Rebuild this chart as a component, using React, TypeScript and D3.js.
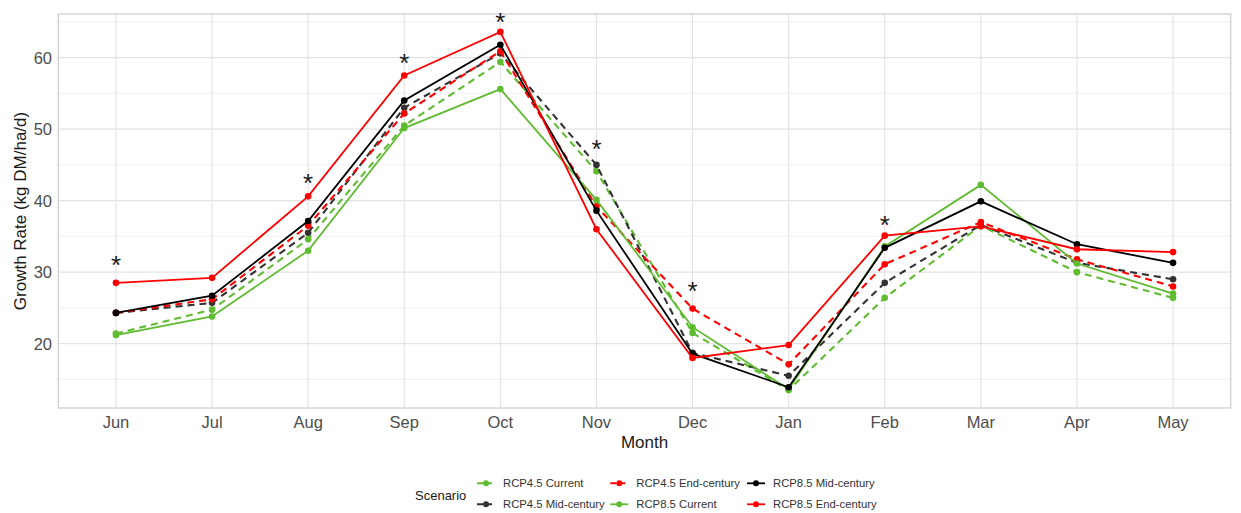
import React from 'react';
import * as d3 from 'd3';

const months = ['Jun', 'Jul', 'Aug', 'Sep', 'Oct', 'Nov', 'Dec', 'Jan', 'Feb', 'Mar', 'Apr', 'May'];

const rcp45Current = [21.4, 24.75, 34.6, 50.5, 59.4, 44.1, 21.5, 13.5, 26.4, 36.5, 30.0, 26.4];
const rcp45Mid = [24.3, 25.7, 35.5, 53.0, 60.6, 45.0, 18.7, 15.5, 28.5, 36.6, 31.3, 29.0];
const rcp45End = [24.3, 26.2, 36.5, 52.2, 60.9, 39.2, 24.9, 17.1, 31.1, 37.0, 31.8, 28.0];
const rcp85Current = [21.2, 23.8, 33.0, 50.15, 55.6, 40.1, 22.3, 13.6, 33.6, 42.2, 31.2, 27.0];
const rcp85Mid = [24.3, 26.7, 37.15, 54.0, 61.8, 38.6, 18.6, 13.9, 33.4, 39.9, 33.9, 31.3];
const rcp85End = [28.5, 29.2, 40.6, 57.5, 63.6, 36.0, 18.0, 19.8, 35.1, 36.4, 33.2, 32.8];

const sigMonths = ['Jun', 'Aug', 'Sep', 'Oct', 'Nov', 'Dec', 'Feb'];
const sigY = [31.9, 43.3, 60.1, 65.8, 48.0, 28.25, 37.5];

const yTicks = [20, 30, 40, 50, 60];
const yMinor = [15, 25, 35, 45, 55, 65];

const GREEN = '#5fbb30';

interface Series {
  name: string;
  values: number[];
  color: string;
  dashed: boolean;
}

const series: Series[] = [
  { name: 'RCP4.5 Current', values: rcp45Current, color: GREEN, dashed: true },
  { name: 'RCP4.5 Mid-century', values: rcp45Mid, color: '#333333', dashed: true },
  { name: 'RCP4.5 End-century', values: rcp45End, color: '#ff0000', dashed: true },
  { name: 'RCP8.5 Current', values: rcp85Current, color: GREEN, dashed: false },
  { name: 'RCP8.5 Mid-century', values: rcp85Mid, color: '#000000', dashed: false },
  { name: 'RCP8.5 End-century', values: rcp85End, color: '#ff0000', dashed: false },
];

const W = 1241;
const H = 513;
const panel = { left: 58.3, right: 1230.7, top: 14, bottom: 408 };
const FONT = '"Liberation Sans", Arial, sans-serif';

const App: React.FC = () => {
  // discrete x axis, ggplot style 0.6 expansion
  const step = (panel.right - panel.left) / (months.length - 1 + 1.2);
  const x = d3.scalePoint<string>()
    .domain(months)
    .range([panel.left + 0.6 * step, panel.right - 0.6 * step]);

  const all = series.flatMap(s => s.values);
  const lo = d3.min(all)!;
  const hi = d3.max(all)!;
  const pad = (hi - lo) * 0.05;
  const y = d3.scaleLinear().domain([lo - pad, hi + pad]).range([panel.bottom, panel.top]);

  const line = d3.line<number>()
    .x((_, i) => x(months[i])!)
    .y(d => y(d));

  // legend layout: 2 rows, filled by column
  const legendCols = [486, 619.3, 756];
  const legendRows = [483.3, 504.3];

  return (
    <div style={{ position: 'absolute', left: 0, top: 0 }}>
      <svg width={W} height={H} style={{ display: 'block', background: '#fff' }} fontFamily={FONT}>
        {/* grid */}
        {yMinor.map(v => (
          <line key={'mn' + v} x1={panel.left} x2={panel.right} y1={y(v)} y2={y(v)} stroke="#ededed" strokeWidth={0.8} />
        ))}
        {yTicks.map(v => (
          <line key={'mj' + v} x1={panel.left} x2={panel.right} y1={y(v)} y2={y(v)} stroke="#e3e3e3" strokeWidth={1.1} />
        ))}
        {months.map(m => (
          <line key={'vx' + m} x1={x(m)} x2={x(m)} y1={panel.top} y2={panel.bottom} stroke="#e3e3e3" strokeWidth={1.1} />
        ))}
        <rect x={panel.left} y={panel.top} width={panel.right - panel.left} height={panel.bottom - panel.top}
          fill="none" stroke="#d0d0d0" strokeWidth={1.3} />

        {/* series */}
        {series.map(s => (
          <g key={s.name}>
            <path d={line(s.values)!} fill="none" stroke={s.color} strokeWidth={s.dashed ? 2.1 : 1.8}
              strokeDasharray={s.dashed ? '7,5' : undefined} />
            {s.values.map((v, i) => (
              <circle key={i} cx={x(months[i])} cy={y(v)} r={3.3} fill={s.color} />
            ))}
          </g>
        ))}

        {/* significance markers */}
        {sigMonths.map((m, i) => (
          <text key={'sig' + m} x={x(m)} y={y(sigY[i])} dy={15} textAnchor="middle" fontSize={26} fill="#1a1a1a">*</text>
        ))}

        {/* y axis */}
        {yTicks.map(v => (
          <text key={'yt' + v} x={52} y={y(v)} dy="0.36em" textAnchor="end" fontSize={16.5} fill="#4d4d4d">{v}</text>
        ))}
        <text transform={`translate(26,${(panel.top + panel.bottom) / 2}) rotate(-90)`} textAnchor="middle"
          fontSize={17} fill="#1a1a1a">Growth Rate (kg DM/ha/d)</text>

        {/* x axis */}
        {months.map(m => (
          <text key={'xt' + m} x={x(m)} y={428} textAnchor="middle" fontSize={16.5} fill="#4d4d4d">{m}</text>
        ))}
        <text x={(panel.left + panel.right) / 2} y={448} textAnchor="middle" fontSize={17} fill="#1a1a1a">Month</text>

        {/* legend */}
        <text x={415} y={495} dy="0.35em" fontSize={13} fill="#1a1a1a">Scenario</text>
        {series.map((s, i) => {
          const cx = legendCols[Math.floor(i / 2)];
          const cy = legendRows[i % 2];
          return (
            <g key={'lg' + s.name}>
              <line x1={cx - 9} x2={cx + 9} y1={cy} y2={cy} stroke={s.color} strokeWidth={s.dashed ? 2 : 1.8}
                strokeDasharray={s.dashed ? '6,3' : undefined} />
              <circle cx={cx} cy={cy} r={3} fill={s.color} />
              <text x={cx + 17} y={cy} dy="0.35em" fontSize={11.3} fill="#333333">{s.name}</text>
            </g>
          );
        })}
      </svg>
    </div>
  );
};

export default App;
